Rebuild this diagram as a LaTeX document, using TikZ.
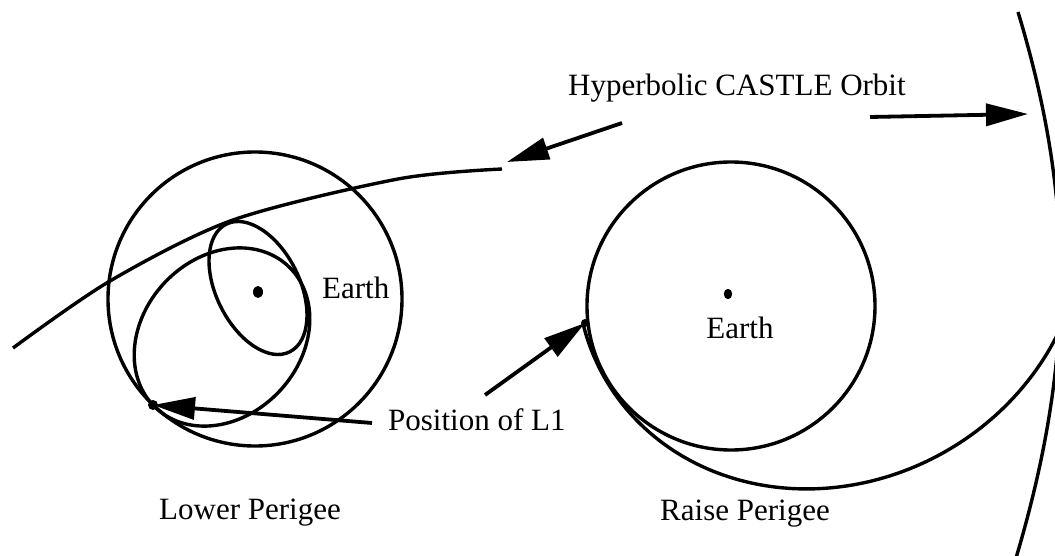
\documentclass[tikz,border=0pt]{standalone}
\usepackage{fontspec}
\setmainfont{Liberation Serif}
\usetikzlibrary{arrows.meta}
\begin{document}
\begin{tikzpicture}[x=1pt,y=1pt,
  orbit/.style={line width=3.4pt},
  pointer/.style={line width=3.8pt, -{Triangle[length=42pt,width=22pt]}},
  lbl/.style={font=\fontsize{31}{36}\selectfont, inner sep=0pt, anchor=base west},
  dotmark/.style={fill=black}
]
\useasboundingbox (0,0) rectangle (1055,555);
% centres
\coordinate (lc) at (255,256);
\coordinate (rc) at (731,249);
\coordinate (le) at (222,218);
\coordinate (se) at (258,267);
% dots (Earth)
\fill[dotmark] (258,263) ellipse [x radius=5pt, y radius=6pt];
\fill[dotmark] (728,261) ellipse [x radius=4.2pt, y radius=5.2pt];
% left: big circle
\draw[orbit] (lc) circle [radius=147pt];
% small tilted ellipse
\begin{scope}[shift={(se)}, rotate=-63.6]
  \draw[orbit] (0,0) ellipse [x radius=71.3pt, y radius=41.7pt];
\end{scope}
% larger tilted ellipse
\begin{scope}[shift={(le)}, rotate=47.1]
  \draw[orbit] (0,0) ellipse [x radius=97pt, y radius=79pt];
\end{scope}
% hyperbolic approach
\draw[orbit] plot[smooth] coordinates {(13,207) (110,274) (233,335) (398,376) (502,386)};
% right: circle
\draw[orbit] (rc) circle [radius=144pt];
\begin{scope}
  \clip (0,0) rectangle (1055,555);
  % raised-perigee ellipse
  \draw[orbit] plot[domain=-8:173, samples=140, variable=\t]
    ({731 + 209.4/(1+0.4407*cos(\t-150))*cos(\t)}, {249 - 209.4/(1+0.4407*cos(\t-150))*sin(\t)});
  % hyperbolic CASTLE orbit (far right)
  \draw[orbit] (1018,543) .. controls (1075,355) and (1075,195) .. (1016,-3);
\end{scope}
% L1 points
\coordinate (l1left) at (153,150);
\coordinate (l1right) at (585,232);
\fill[dotmark] (l1left) circle [radius=5pt];
\fill[dotmark] (l1right) circle [radius=4pt];
% labels
\node[lbl] (hyp) at (568,459) {Hyperbolic CASTLE Orbit};
\node[lbl] (earthL) at (322,256) {Earth};
\node[lbl, anchor=base] (earthR) at (740,217) {Earth};
\node[lbl] (pos) at (388,125) {Position of L1};
\node[lbl] (lower) at (159,36) {Lower Perigee};
\node[lbl] (raise) at (660,35) {Raise Perigee};
% arrows
\coordinate (hypEnd) at (507,393);
\coordinate (hypTailL) at (622,432);
\coordinate (hypTailR) at (870,438);
\coordinate (hypRight) at (1028,441);
\coordinate (posTailL) at (372,132);
\coordinate (posTailR) at (485,160);
\draw[pointer] (hypTailL) -- (hypEnd);
\draw[pointer] (hypTailR) -- (hypRight);
\draw[pointer] (posTailL) -- (l1left);
\draw[pointer] (posTailR) -- (l1right);
\end{tikzpicture}
\end{document}
